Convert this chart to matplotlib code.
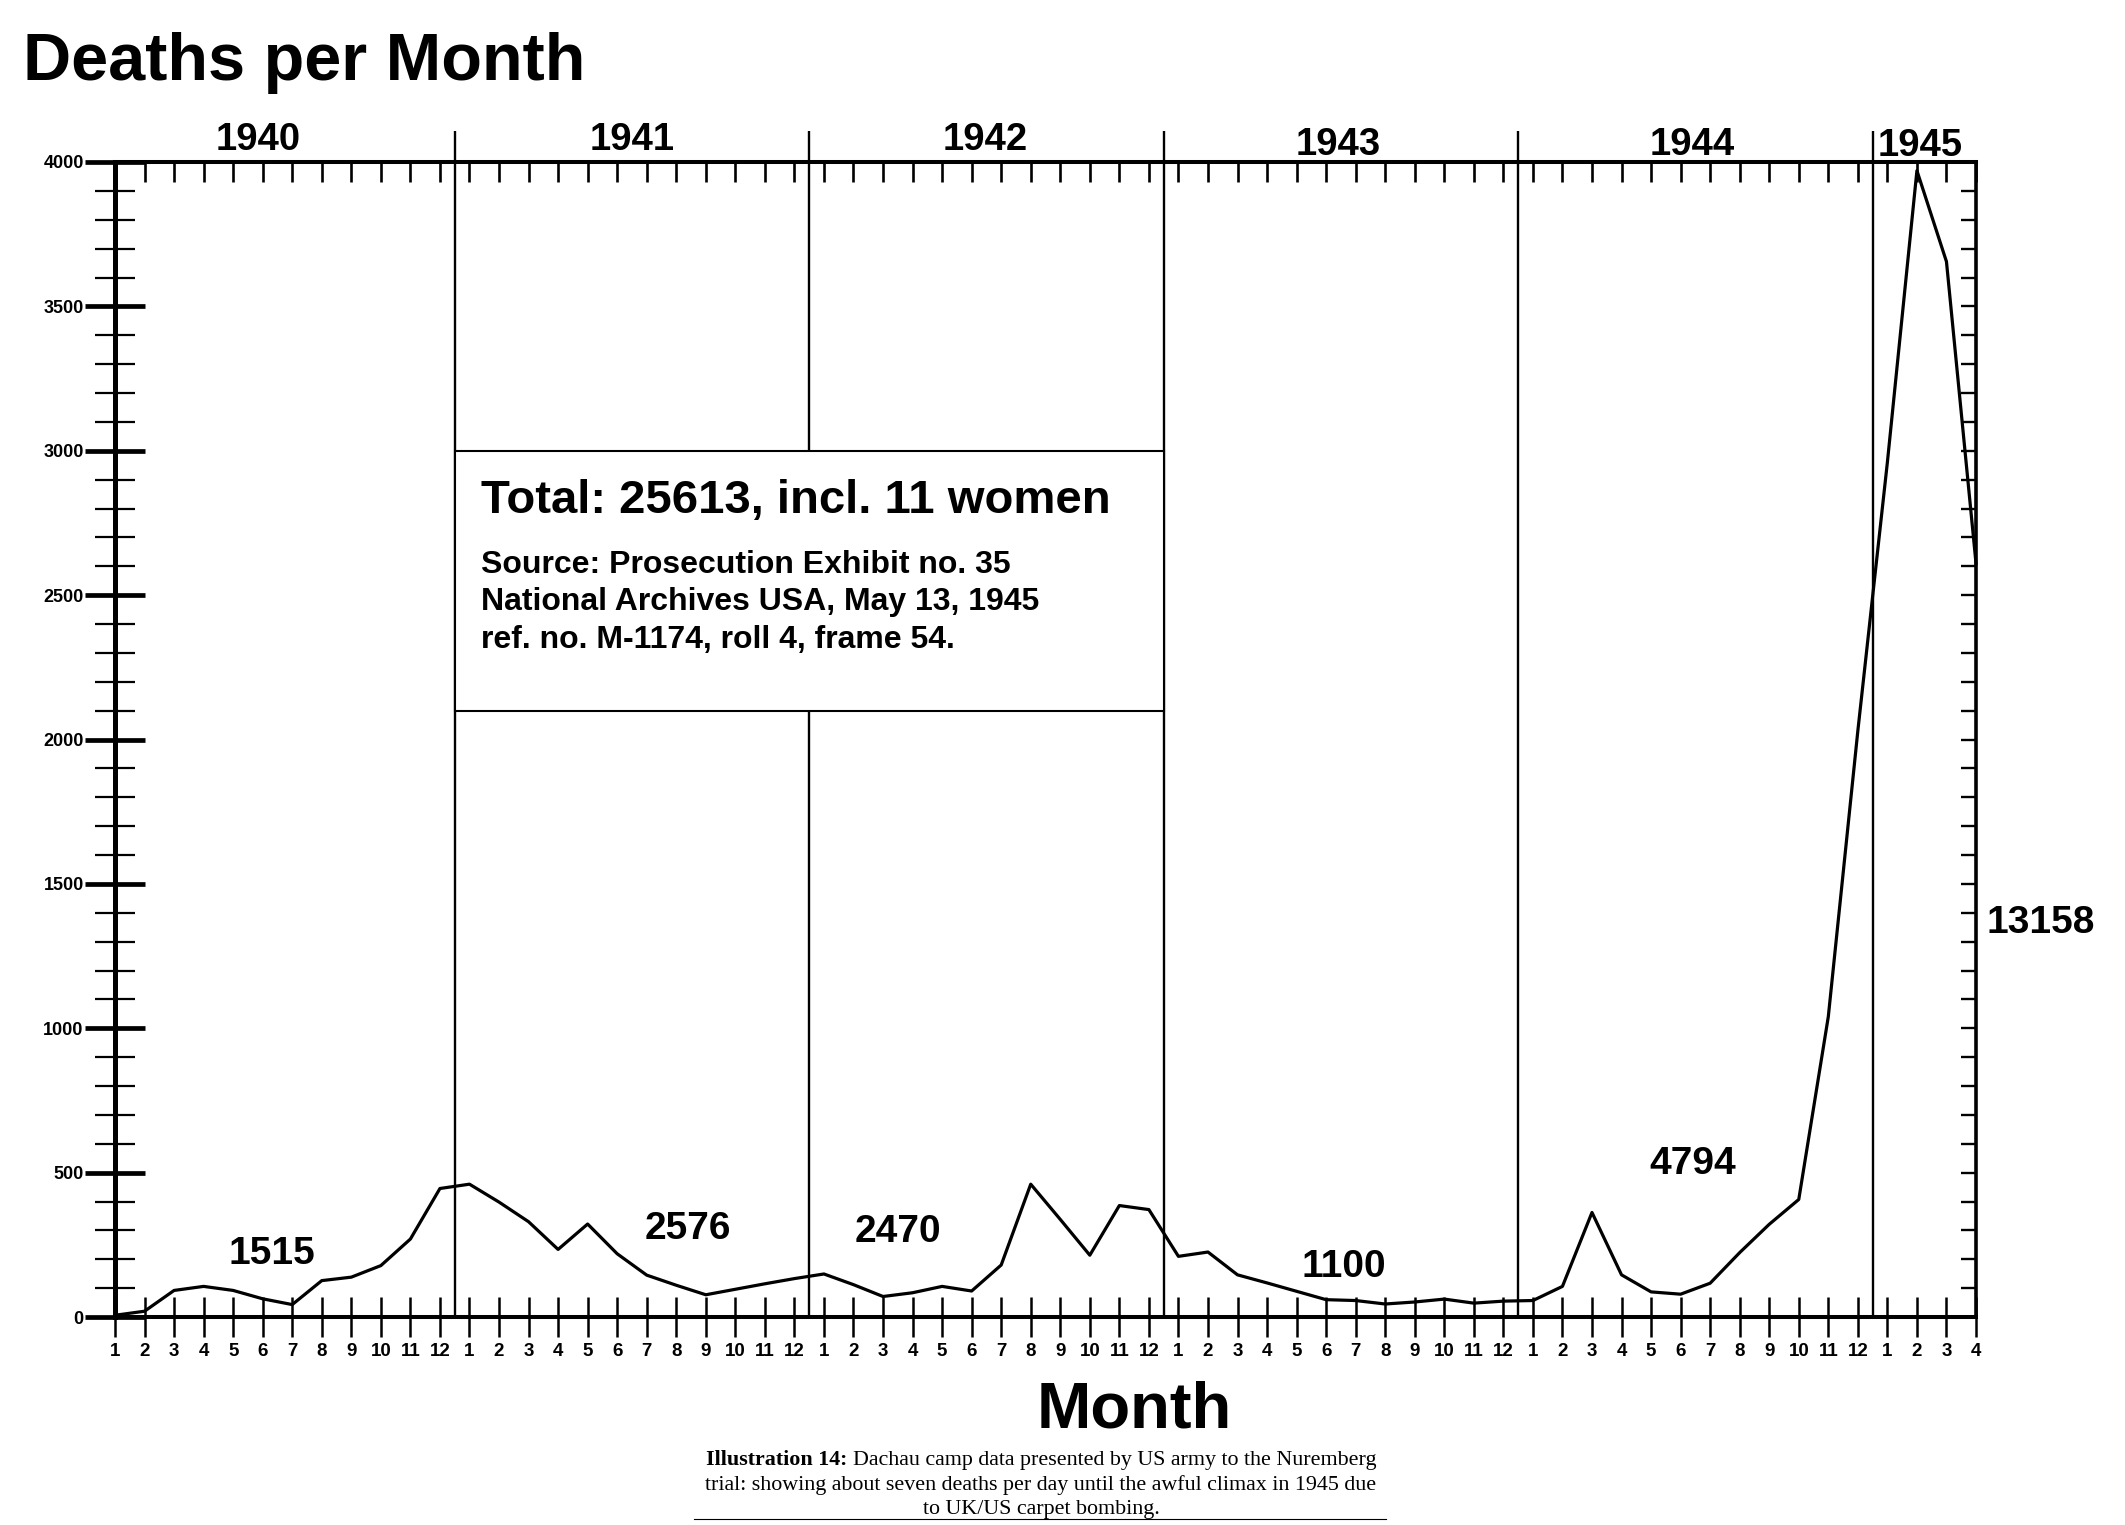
import numpy as np
import matplotlib
matplotlib.use('Agg')
import matplotlib.pyplot as plt
from matplotlib.lines import Line2D
from matplotlib.patches import Rectangle

plt.rcParams['font.family'] = ['Liberation Sans', 'DejaVu Sans']

# monthly deaths
years = ['1940', '1941', '1942', '1943', '1944', '1945']
deaths_1940 = [6, 20, 92, 106, 92, 63, 43, 126, 138, 178, 270, 445]
deaths_1941 = [460, 398, 330, 234, 322, 219, 145, 110, 77, 96, 115, 133]
deaths_1942 = [149, 112, 71, 84, 106, 90, 180, 460, 338, 214, 386, 372]
deaths_1943 = [210, 225, 146, 118, 89, 60, 57, 45, 52, 62, 48, 55]
deaths_1944 = [57, 106, 362, 146, 87, 79, 117, 223, 321, 407, 1040, 2030]
deaths_1945 = [2960, 3970, 3655, 2610]

yearly_totals = ['1515', '2576', '2470', '1100', '4794', '13158']
box_title = 'Total: 25613, incl. 11 women'
box_source = ['Source: Prosecution Exhibit no. 35',
              'National Archives USA, May 13, 1945',
              'ref. no. M-1174, roll 4, frame 54.']

per_year = [deaths_1940, deaths_1941, deaths_1942, deaths_1943, deaths_1944, deaths_1945]
deaths = sum(per_year, [])
month_labels = [str(m + 1) for d in per_year for m in range(len(d))]
x = np.arange(len(deaths))
bounds = np.cumsum([len(d) for d in per_year])[:-1] - 0.5

W, H = 2125, 1525
fig = plt.figure(figsize=(W / 100, H / 100), dpi=100)
ax = fig.add_axes([115 / W, 1 - 1317 / H, (1976 - 115) / W, (1317 - 162) / H])
ax.set_xlim(0, len(deaths) - 1)
ax.set_ylim(0, 4000)

# spines
for side, lw in [('left', 3.6), ('top', 2.9), ('right', 2.6), ('bottom', 2.9)]:
    ax.spines[side].set_linewidth(lw)

# bottom month ticks
ax.set_xticks(x)
ax.set_xticklabels(month_labels, fontsize=13.5, fontweight='bold')
ax.tick_params(axis='x', direction='inout', length=29.5, width=1.8, pad=4)

# left ticks
ax.set_yticks(np.arange(0, 4001, 500))
ax.set_yticks(np.arange(0, 4001, 100), minor=True)
ax.tick_params(axis='y', which='major', direction='inout', length=43, width=3.4,
               pad=1, labelsize=13)
ax.tick_params(axis='y', which='minor', direction='inout', length=29.5, width=1.6)
for lab in ax.get_yticklabels():
    lab.set_fontweight('bold')

# right ticks pointing inwards
axr = ax.twinx()
axr.set_ylim(0, 4000)
axr.set_yticks(np.arange(100, 4000, 100))
axr.tick_params(direction='in', length=11, width=1.7, labelright=False)
for s in axr.spines.values():
    s.set_visible(False)

# top ticks pointing down
axt = ax.twiny()
axt.set_xlim(ax.get_xlim())
axt.set_xticks(x[1:])
axt.tick_params(direction='in', length=14.5, width=1.9, labeltop=False)
for s in axt.spines.values():
    s.set_visible(False)

# year separators
ax.vlines(bounds, 0, 4107, colors='black', lw=1.7, clip_on=False, zorder=2)

# info box
ax.add_patch(Rectangle((bounds[0], 2100), bounds[2] - bounds[0], 900,
                       facecolor='white', edgecolor='black', lw=1.5, zorder=3))
ax.text(12.39, 2785, box_title, fontsize=34, fontweight='bold', va='baseline', zorder=4)
for i, line in enumerate(box_source):
    ax.text(12.39, 2578 - i * 131, line, fontsize=23, fontweight='bold',
            va='baseline', zorder=4)

# the curve
ax.plot(x, deaths, color='black', lw=2.3, zorder=5, clip_on=False)

# year headers
year_x = [4.85, 17.5, 29.45, 41.4, 53.4, 61.1]
year_y = [4042, 4040, 4042, 4024, 4024, 4020]
for lab, xx, yy in zip(years, year_x, year_y):
    ax.text(xx, yy, lab, ha='center', va='baseline', fontsize=27.5,
            fontweight='bold', clip_on=False)

# yearly totals
total_pos = [(5.3, 218), (19.4, 304), (26.5, 294), (41.6, 173), (53.4, 529), (65.2, 1363)]
for lab, (xx, yy) in zip(yearly_totals, total_pos):
    ax.text(xx, yy, lab, ha='center', va='center', fontsize=28,
            fontweight='bold', clip_on=False)

fig.text(23 / W, 1 - 80 / H, 'Deaths per Month', fontsize=48, fontweight='bold',
         va='baseline')
fig.text(1134 / W, 1 - 1427 / H, 'Month', fontsize=47, fontweight='bold',
         ha='center', va='baseline')

# caption
cap = ['Liberation Serif', 'DejaVu Serif']
cfs = 15.8
cx = 1041
r = fig.canvas.get_renderer()
t1 = fig.text(0, 1 - 1465 / H, 'Illustration 14:', family=cap, fontsize=cfs,
              fontweight='bold', va='baseline')
t2 = fig.text(0, 1 - 1465 / H, 'Dachau camp data presented by US army to the Nuremberg',
              family=cap, fontsize=cfs, va='baseline')
w1 = t1.get_window_extent(r).width
w2 = t2.get_window_extent(r).width
gap = cfs * 0.25 * 100 / 72
x0 = cx - (w1 + gap + w2) / 2
t1.set_x(x0 / W)
t2.set_x((x0 + w1 + gap) / W)
fig.text(cx / W, 1 - 1490 / H,
         'trial: showing about seven deaths per day until the awful climax in 1945 due',
         family=cap, fontsize=cfs, ha='center', va='baseline')
fig.text(cx / W, 1 - 1514 / H, 'to UK/US carpet bombing.', family=cap, fontsize=cfs,
         ha='center', va='baseline')
fig.add_artist(Line2D([694 / W, 1386 / W], [1 - 1519 / H] * 2, color='black', lw=0.8))

fig.savefig('out.png', dpi=100, facecolor='white')
